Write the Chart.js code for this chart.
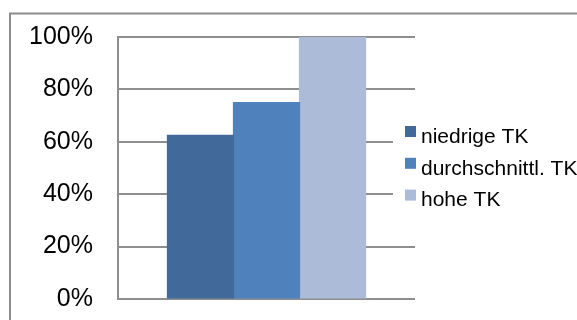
<!DOCTYPE html>
<html>
<head>
<meta charset="utf-8">
<script src="https://cdn.jsdelivr.net/npm/chart.js@4"></script>
<style>
  html, body { margin: 0; padding: 0; background: #fff; }
  canvas { display: block; }
</style>
</head>
<body>
<canvas id="myChart" width="577" height="320"></canvas>
<script>
const categories = [""];
const seriesNames = ["niedrige TK", "durchschnittl. TK", "hohe TK"];
const seriesValues = [62.5, 75, 100];
const seriesColors = ["#41699a", "#4f81bc", "#abbbd8"];
const yTickStep = 20;
const yMax = 100;

const FONT = "'Liberation Sans', Arial, sans-serif";
const GRID = "#8e8e8e";

document.addEventListener("DOMContentLoaded", function () {
  const ctx = document.getElementById("myChart").getContext("2d");

  // gray frame around the whole chart (open to the right and bottom)
  const framePlugin = {
    id: "frame",
    beforeDraw(chart) {
      const c = chart.ctx;
      c.save();
      c.strokeStyle = "#8c8c8c";
      c.lineWidth = 2;
      c.strokeRect(10, 13.5, 700, 400);
      c.restore();
    },
  };

  // legend drawn on a white box that sits over the right edge of the plot
  const sideLegend = {
    id: "sideLegend",
    afterDraw(chart) {
      const c = chart.ctx;
      c.save();
      c.fillStyle = "#fff";
      c.fillRect(393, 110, 200, 108);
      c.font = "21px " + FONT;
      c.textBaseline = "alphabetic";
      c.textAlign = "left";
      chart.data.datasets.forEach(function (ds, i) {
        const top = 126 + i * 31.8;
        c.fillStyle = ds.backgroundColor;
        c.fillRect(405, top, 11, 11);
        c.fillStyle = "#000";
        c.fillText(ds.label, 421, top + 16.8);
      });
      c.restore();
    },
  };

  const datasets = seriesNames.map(function (name, i) {
    return {
      label: name,
      data: [seriesValues[i]],
      backgroundColor: seriesColors[i],
      borderWidth: 0,
      inflateAmount: 0.6,
      barPercentage: 1,
      categoryPercentage: 0.667,
    };
  });

  new Chart(ctx, {
    type: "bar",
    data: { labels: categories, datasets: datasets },
    options: {
      responsive: false,
      animation: false,
      layout: { padding: { left: 0, top: 37, right: 162, bottom: 21 } },
      plugins: {
        legend: { display: false },
        tooltip: { enabled: false },
      },
      scales: {
        x: { display: false },
        y: {
          min: 0,
          max: yMax,
          ticks: {
            stepSize: yTickStep,
            padding: 25,
            color: "#000",
            font: { family: FONT, size: 25 },
            callback: function (v) { return v + "%"; },
          },
          grid: { color: GRID, lineWidth: 2, drawTicks: false },
          border: { display: true, color: GRID, width: 2 },
          afterFit: function (scale) {
            scale.width = 118;
            scale.paddingTop = 0;
            scale.paddingBottom = 0;
          },
        },
      },
    },
    plugins: [framePlugin, sideLegend],
  });
});
</script>
</body>
</html>
